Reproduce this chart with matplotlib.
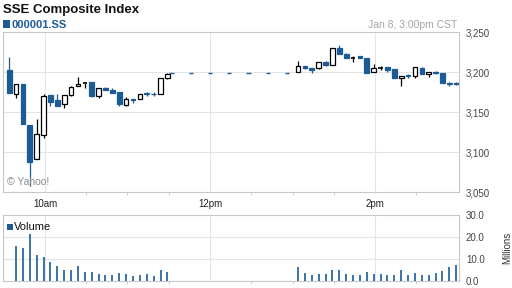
import matplotlib
matplotlib.use("Agg")
import matplotlib.pyplot as plt
from matplotlib.patches import Rectangle
import numpy as np

plt.rcParams['font.family'] = ['Liberation Sans', 'DejaVu Sans']

BLUE = '#1d5b96'
BORDER = '#c8c8c8'
GRID_H = '#e4e4e4'
GRID_V = '#dfe4ee'

# 5 minute bars, labelled by bar end time
morning_times = ["09:35", "09:40", "09:45", "09:50", "09:55", "10:00", "10:05", "10:10",
                 "10:15", "10:20", "10:25", "10:30", "10:35", "10:40", "10:45", "10:50",
                 "10:55", "11:00", "11:05", "11:10", "11:15", "11:20", "11:25", "11:30"]
afternoon_times = ["13:05", "13:10", "13:15", "13:20", "13:25", "13:30", "13:35", "13:40",
                   "13:45", "13:50", "13:55", "14:00", "14:05", "14:10", "14:15", "14:20",
                   "14:25", "14:30", "14:35", "14:40", "14:45", "14:50", "14:55", "15:00"]
lunch_times = ["11:33", "11:47", "12:01", "12:15", "12:29", "12:43", "12:57"]
lunch_price = 3199

opens = [3202, 3173, 3185, 3134, 3091, 3121, 3171, 3165, 3160, 3171, 3182, 3186,
         3188, 3170, 3180, 3178, 3175, 3159, 3166, 3166, 3174, 3173, 3172, 3193,
         3200, 3207.5, 3205, 3205, 3213, 3209, 3230, 3223, 3218, 3220, 3217, 3200,
         3205, 3206, 3204, 3192, 3196, 3195, 3205, 3197, 3200.5, 3199, 3186.5, 3186]
highs = [3219, 3185, 3185, 3134, 3141, 3173, 3171, 3173, 3171, 3182, 3194, 3186,
         3188, 3180, 3181, 3180, 3175, 3169, 3166, 3173, 3175, 3175, 3193, 3199,
         3214, 3208, 3205, 3213, 3214, 3230, 3234, 3224, 3220, 3220, 3218, 3210,
         3207, 3206, 3204, 3195, 3198, 3206, 3206, 3200, 3201, 3199, 3187, 3187]
lows = [3174, 3168, 3135, 3057, 3091, 3118, 3157, 3158, 3155, 3170, 3182, 3180,
        3169, 3167, 3177, 3174, 3158, 3157, 3161, 3166, 3170, 3170, 3172, 3191,
        3200, 3204, 3199, 3204, 3208, 3209, 3222, 3217, 3212, 3218, 3199, 3200,
        3202, 3200, 3193, 3183, 3193, 3193, 3198, 3194, 3198, 3186, 3183, 3184]
closes = [3174, 3185, 3135, 3088, 3122, 3170, 3163, 3158, 3171, 3181, 3185, 3186,
          3170, 3180, 3178, 3174, 3160, 3166, 3165, 3173, 3172.5, 3172, 3193, 3198,
          3207.5, 3205, 3203, 3213, 3209, 3230, 3222.5, 3218, 3218, 3218, 3199, 3205,
          3205, 3203, 3193, 3195, 3195, 3206, 3198, 3200, 3198.5, 3186, 3185, 3185.5]
# millions of shares
volumes = [np.nan, 15.8, 15.0, 21.4, 12.0, 10.9, 8.6, 7.0, 5.1, 5.1, 7.0, 4.1,
           4.1, 3.3, 2.9, 2.9, 3.6, 3.0, 2.3, 2.6, 3.3, 2.4, 5.0, 4.1,
           6.4, 3.6, 2.9, 3.3, 3.3, 5.0, 5.0, 3.3, 2.9, 2.9, 4.1, 3.3,
           3.3, 2.9, 2.9, 5.0, 2.9, 3.6, 2.9, 2.9, 3.6, 4.5, 6.4, 7.4]

price_ticks = [3050, 3100, 3150, 3200, 3250]
volume_ticks = [0, 10, 20, 30]
hour_ticks = [30, 150, 270]
hour_labels = ['10am', '12pm', '2pm']
half_hour_ticks = [60, 90, 120, 180, 210, 240, 300]


def to_minutes(t):
    h, m = t.split(':')
    # minutes after 9:30, shifted a little so the bar sits left of its end time
    return (int(h) - 9) * 60 + int(m) - 30 - 1


def fpx(x, y):
    return x / 512, 1 - y / 288


def style_axes(ax):
    for s in ax.spines.values():
        s.set_color(BORDER)
        s.set_linewidth(0.8)
    ax.set_xlim(-0.5, 331)
    ax.set_xticks(hour_ticks)
    ax.set_xticks(half_hour_ticks, minor=True)
    ax.grid(False)
    for x in hour_ticks:
        ax.axvline(x, color=GRID_V, lw=0.8, zorder=0)
    ax.tick_params(axis='x', which='major', length=0, pad=5, labelsize=7, labelcolor='#222222')
    ax.tick_params(axis='x', which='minor', length=2.5, width=0.6, color=BORDER, direction='out')
    ax.yaxis.tick_right()
    ax.tick_params(axis='y', length=0, pad=5, labelsize=7, labelcolor='#444444')


fig = plt.figure(figsize=(5.12, 2.88), dpi=100)
ax = fig.add_axes([3 / 512, (288 - 192) / 288, 456 / 512, 160 / 288])
axv = fig.add_axes([3 / 512, (288 - 281) / 288, 456 / 512, 66 / 288])

style_axes(ax)
style_axes(axv)

xs = np.array([to_minutes(t) for t in morning_times + afternoon_times])
o = np.array(opens)
h = np.array(highs)
l = np.array(lows)
c = np.array(closes)

# price panel
ax.set_ylim(3050, 3250)
ax.set_yticks(price_ticks)
ax.set_yticklabels([f"{p:,}" for p in price_ticks])
for p in price_ticks[1:-1]:
    ax.axhline(p, color=GRID_H, lw=0.8, zorder=0)
ax.set_xticklabels(hour_labels)

w = 3.4
up = c > o
down = c < o
flat = c == o

ax.vlines(xs[up], l[up], h[up], color='black', lw=0.9, zorder=2)
ax.vlines(xs[down], l[down], h[down], color=BLUE, lw=0.9, zorder=2)
ax.vlines(xs[flat], l[flat], h[flat], color='black', lw=0.9, zorder=2)
ax.bar(xs[up], c[up] - o[up], bottom=o[up], width=w, facecolor='white',
       edgecolor='black', lw=0.9, zorder=3)
ax.bar(xs[down], o[down] - c[down], bottom=c[down], width=w, facecolor=BLUE,
       edgecolor=BLUE, lw=0.9, zorder=3)
ax.hlines(o[flat], xs[flat] - w / 2, xs[flat] + w / 2, color='black', lw=1.2, zorder=3)

lx = np.array([to_minutes(t) for t in lunch_times])
ax.hlines([lunch_price] * len(lx), lx - 1.6, lx + 1.6, color=BLUE, lw=1.0, zorder=3)

# volume panel
axv.set_ylim(0, 30)
axv.set_yticks(volume_ticks)
axv.set_yticklabels([f"{v:.1f}" for v in volume_ticks])
for v in volume_ticks[1:-1]:
    axv.axhline(v, color=GRID_H, lw=0.8, zorder=0)
axv.set_xticklabels([])
vol = np.array(volumes)
ok = ~np.isnan(vol)
axv.vlines(xs[ok], 0, vol[ok], color=BLUE, lw=1.2, zorder=3)

# header and labels
fig.text(*fpx(3, 9.5), "SSE Composite Index", fontsize=9.5, fontweight='bold',
         color='#111111', va='center', ha='left')
fig.patches.append(Rectangle(fpx(2.5, 27.5), 7 / 512, 7 / 288, transform=fig.transFigure,
                             facecolor=BLUE, edgecolor='none'))
fig.text(*fpx(12, 24.5), "000001.SS", fontsize=8, fontweight='bold', color=BLUE,
         va='center', ha='left')
fig.text(*fpx(457, 24.5), "Jan 8, 3:00pm CST", fontsize=7.5, color='#a6a6a6',
         va='center', ha='right')
fig.text(*fpx(7, 182), "\u00a9 Yahoo!", fontsize=7.5, color='#8a8a8a',
         va='center', ha='left', zorder=5)
fig.patches.append(Rectangle(fpx(6.5, 229.5), 6 / 512, 6 / 288, transform=fig.transFigure,
                             facecolor=BLUE, edgecolor='none'))
fig.text(*fpx(14, 226.5), "Volume", fontsize=8, color='#111111', va='center', ha='left')
fig.text(*fpx(507, 247.5), "Millions", fontsize=7, color='#333333', rotation=90,
         va='center', ha='center')

fig.savefig('out.png', dpi=100, facecolor='white')
